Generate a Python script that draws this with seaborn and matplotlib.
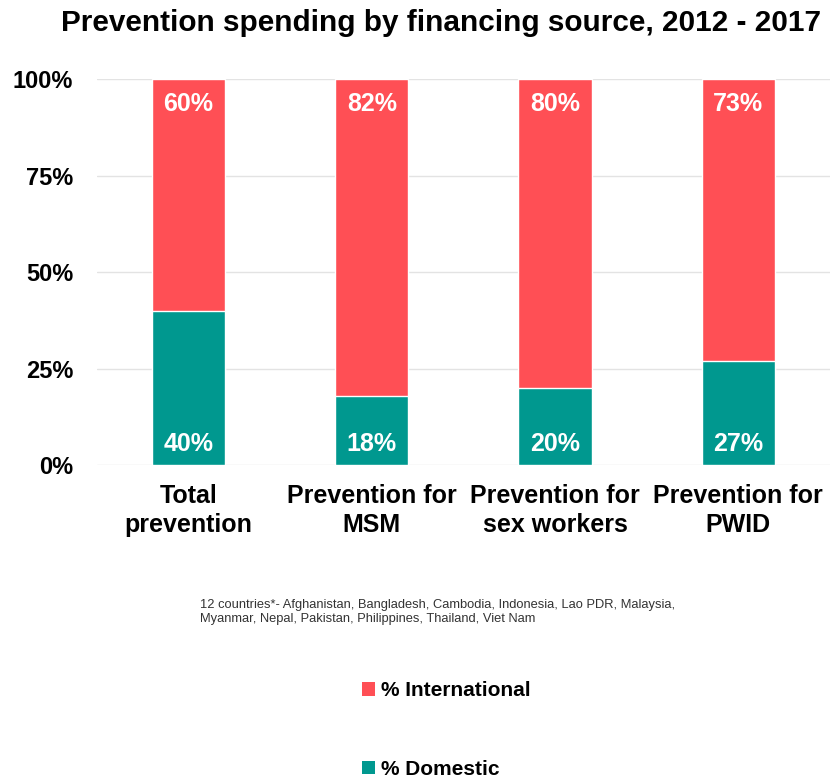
import matplotlib
matplotlib.use("Agg")
import matplotlib.pyplot as plt
import seaborn as sns
import pandas as pd
from matplotlib.patches import Patch

categories = ["Total\nprevention", "Prevention for\nMSM", "Prevention for\nsex workers", "Prevention for\nPWID"]
domestic = [40, 18, 20, 27]
international = [60, 82, 80, 73]
y_ticks = [0, 25, 50, 75, 100]
y_tick_labels = ["0%", "25%", "50%", "75%", "100%"]
title = "Prevention spending by financing source, 2012 - 2017"
footnote = ("12 countries*- Afghanistan, Bangladesh, Cambodia, Indonesia, Lao PDR, Malaysia,\n"
            "Myanmar, Nepal, Pakistan, Philippines, Thailand, Viet Nam")
legend_labels = ["% International", "% Domestic"]

RED = "#FF4F55"
TEAL = "#00988F"

sns.set_theme(style="white")
plt.rcParams["font.family"] = ["Liberation Sans", "DejaVu Sans"]
plt.rcParams["text.color"] = "black"

df = pd.DataFrame({
    "category": categories,
    "domestic": domestic,
    "international": international,
})
df["total"] = df["domestic"] + df["international"]

fig = plt.figure(figsize=(8.31, 7.81), dpi=100)
ax = fig.add_axes([0.1167, 0.4046, 0.882, 0.4942])

sns.barplot(data=df, x="category", y="total", color=RED, width=0.40,
            saturation=1, ax=ax, zorder=2)
sns.barplot(data=df, x="category", y="domestic", color=TEAL, width=0.40,
            saturation=1, ax=ax, zorder=3)

for i, (d, it) in enumerate(zip(domestic, international)):
    ax.text(i, 100 - 6.5, f"{it}%", ha="center", va="center", color="white",
            fontsize=18, fontweight="bold", zorder=4)
    ax.text(i, 5.5, f"{d}%", ha="center", va="center", color="white",
            fontsize=18, fontweight="bold", zorder=4)

ax.set_ylim(0, 100)
ax.set_xlim(-0.5, 3.5)
ax.set_yticks(y_ticks)
ax.set_yticklabels(y_tick_labels, fontsize=17, fontweight="bold", color="black")
ax.tick_params(axis="y", length=0, pad=17)
ax.tick_params(axis="x", length=0, pad=14)
for lab in ax.get_xticklabels():
    lab.set_fontsize(18)
    lab.set_fontweight("bold")
    lab.set_color("black")
    lab.set_linespacing(1.25)
ax.set_xlabel("")
ax.set_ylabel("")
ax.yaxis.grid(True, color="#E3E3E3", linewidth=1, zorder=0)
ax.set_axisbelow(True)
for s in ax.spines.values():
    s.set_visible(False)

fig.text(0.531, 0.971, title, ha="center", va="center", fontsize=21.4,
         fontweight="bold", color="black")
fig.text(200 / 831, 1 - 612 / 781, footnote, ha="left", va="center",
         fontsize=9.3, color="#333333", linespacing=1.2)

handles = [Patch(facecolor=RED, edgecolor="none"), Patch(facecolor=TEAL, edgecolor="none")]
leg = fig.legend(handles, legend_labels, loc="center", bbox_to_anchor=(0.537, 1 - 730 / 781),
                 frameon=False, prop={"size": 15, "weight": "bold"},
                 handlelength=0.6, handleheight=0.6, handletextpad=0.3,
                 labelspacing=2.85)
for t in leg.get_texts():
    t.set_color("black")

fig.savefig("out.png", dpi=100)
